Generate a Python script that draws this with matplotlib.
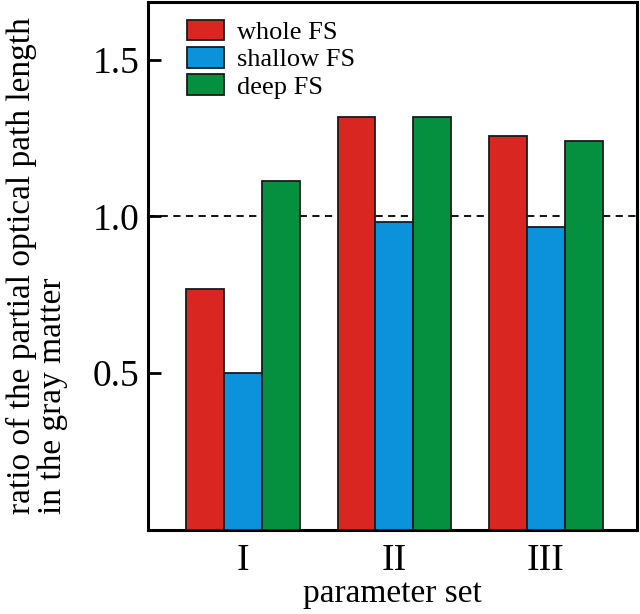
import numpy as np
import matplotlib
matplotlib.use('Agg')
import matplotlib.pyplot as plt

plt.rcParams['font.family'] = ['Liberation Serif', 'DejaVu Serif']

groups = ['I', 'II', 'III']
series = ['whole FS', 'shallow FS', 'deep FS']
whole = [0.768, 1.316, 1.256]
shallow = [0.500, 0.981, 0.965]
deep = [1.114, 1.316, 1.239]
colors = ['#da2620', '#0b92db', '#05903f']

fig = plt.figure(figsize=(6.4, 6.14), dpi=100)
ax = fig.add_axes([0.231, 0.137, 0.764, 0.860])

x = np.arange(len(groups))
w = 0.25
for i, (vals, lab) in enumerate(zip([whole, shallow, deep], series)):
    ax.bar(x + (i - 1) * w, vals, w, color=colors[i], edgecolor='#1a1a1a',
           linewidth=1.3, label=lab, zorder=3)

ax.axhline(1.0, color='black', lw=1.3, ls=(0, (4, 3)), zorder=1)

ax.set_xlim(-0.627, 2.6)
ax.set_ylim(0, 1.684)
ax.set_yticks([0.5, 1.0, 1.5])
ax.set_yticklabels(['0.5', '1.0', '1.5'])
ax.set_xticks(x)
ax.set_xticklabels(groups)
ax.tick_params(axis='y', direction='in', length=9, width=2, labelsize=27, pad=6)
ax.tick_params(axis='x', length=0, labelsize=27, pad=10)
for s in ax.spines.values():
    s.set_linewidth(2.2)

ax.set_xlabel('parameter set', fontsize=24, labelpad=0)
ax.set_ylabel('ratio of the partial optical path length\nin the gray matter',
              fontsize=24, linespacing=1.02, labelpad=18,
              multialignment='left')

ax.legend(loc='upper left', bbox_to_anchor=(0.08, 0.966), frameon=False,
          fontsize=19, handlelength=1.4, handleheight=0.83, handletextpad=0.5,
          labelspacing=0.1, borderaxespad=0, borderpad=0)

fig.savefig('out.png', dpi=100)
